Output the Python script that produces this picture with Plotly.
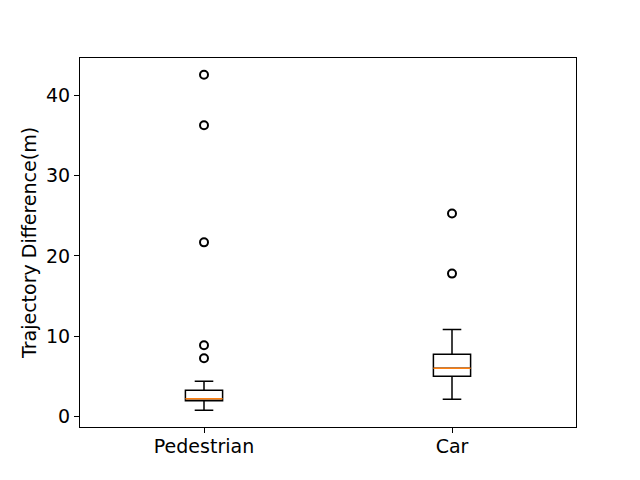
import plotly.graph_objects as go

categories = ["Pedestrian", "Car"]
positions = [1, 2]
q1 = [1.93, 4.98]
medians = [2.18, 5.98]
q3 = [3.24, 7.73]
lower_whisker = [0.75, 2.12]
upper_whisker = [4.36, 10.84]
outliers = [[42.6, 36.3, 21.7, 8.85, 7.23], [25.3, 17.8]]

box_w = 0.15

fig = go.Figure()
for i, name in enumerate(categories):
    fig.add_trace(go.Box(
        x=[positions[i]], q1=[q1[i]], median=[medians[i]], q3=[q3[i]],
        lowerfence=[lower_whisker[i]], upperfence=[upper_whisker[i]],
        width=box_w, whiskerwidth=0.5, boxpoints=False,
        line=dict(color="black", width=1.5), fillcolor="rgba(0,0,0,0)",
        showlegend=False, hoverinfo="skip",
    ))
    # median line in orange
    fig.add_trace(go.Scatter(
        x=[positions[i] - box_w / 2, positions[i] + box_w / 2],
        y=[medians[i], medians[i]], mode="lines",
        line=dict(color="#ff7f0e", width=1.5), showlegend=False,
    ))
    fig.add_trace(go.Scatter(
        x=[positions[i]] * len(outliers[i]), y=outliers[i], mode="markers",
        marker=dict(symbol="circle-open", size=8, color="black", line=dict(width=2)),
        showlegend=False,
    ))

fig.update_layout(
    width=640, height=480,
    margin=dict(l=72, r=72, t=50, b=61),
    plot_bgcolor="white", paper_bgcolor="white",
    font=dict(family="DejaVu Sans", size=19, color="black"),
    xaxis=dict(range=[0.5, 2.5], tickvals=positions, ticktext=categories,
               tickfont=dict(size=19), ticklabelstandoff=-3,
               showgrid=False, zeroline=False, showline=True, mirror=True,
               linecolor="black", linewidth=1, ticks="outside", ticklen=5,
               tickcolor="black"),
    yaxis=dict(range=[-1.34, 44.7], tickvals=[0, 10, 20, 30, 40],
               tickfont=dict(size=19),
               title=dict(text="Trajectory Difference(m)", standoff=4, font=dict(size=19)),
               showgrid=False, zeroline=False, showline=True, mirror=True,
               linecolor="black", linewidth=1, ticks="outside", ticklen=5,
               tickcolor="black"),
)

fig.write_html("out.html")
